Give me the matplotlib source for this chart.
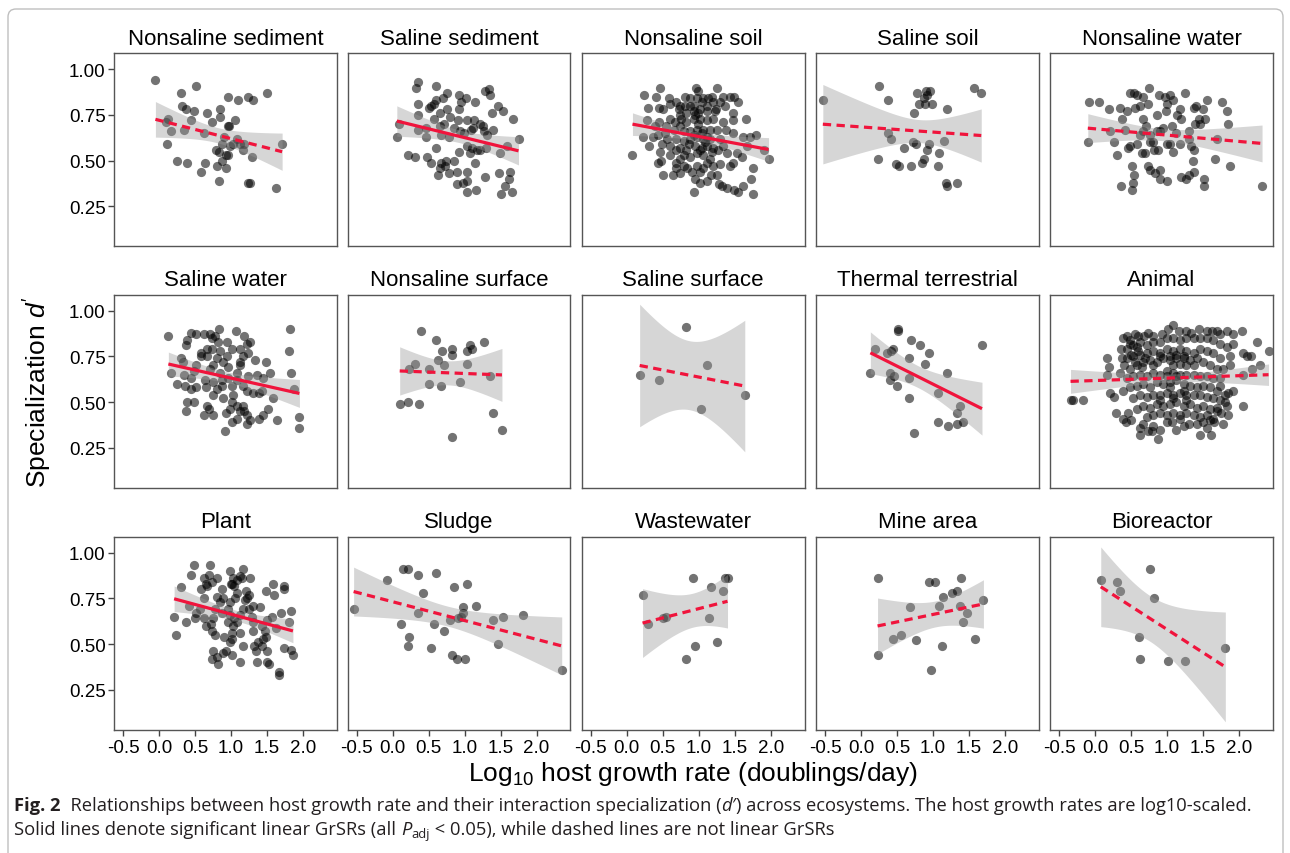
import numpy as np
import matplotlib.pyplot as plt
from matplotlib.patches import FancyBboxPatch
from matplotlib.transforms import IdentityTransform

plt.rcParams['font.family'] = ['Liberation Sans', 'DejaVu Sans']
plt.rcParams['mathtext.fontset'] = 'custom'
plt.rcParams['mathtext.rm'] = 'Liberation Sans'
plt.rcParams['mathtext.it'] = 'Liberation Sans:italic'
plt.rcParams['mathtext.bf'] = 'Liberation Sans:bold'
plt.rcParams['axes.unicode_minus'] = False

# --- data (log10 growth rate, specialization d') ---
nonsaline_sediment_x = [-0.05, 0.30, 0.51, 1.24, 1.30, 1.50, 0.96, 1.10, 0.32, 0.38, 0.48, 0.67, 0.85, 0.85, 1.06, 0.44,
                        0.12, 0.10, 0.16, 0.35, 0.62, 0.74, 0.96, 0.90, 1.08, 0.11, 0.79, 0.88, 0.98, 1.12, 1.16, 0.83,
                        0.96, 0.93, 1.18, 1.71, 1.29, 0.25, 0.39, 0.64, 0.80, 0.88, 0.93, 0.59, 0.83, 1.23, 1.26, 1.62,
                        0.97, 1.03]
nonsaline_sediment_y = [0.94, 0.87, 0.91, 0.85, 0.83, 0.87, 0.85, 0.83, 0.80, 0.78, 0.77, 0.76, 0.78, 0.74, 0.72, 0.72,
                        0.73, 0.71, 0.66, 0.67, 0.65, 0.71, 0.69, 0.63, 0.62, 0.59, 0.56, 0.59, 0.58, 0.59, 0.56, 0.55,
                        0.53, 0.53, 0.59, 0.59, 0.52, 0.50, 0.49, 0.49, 0.47, 0.50, 0.46, 0.44, 0.39, 0.38, 0.38, 0.35,
                        0.69, 0.59]

saline_sediment_x = [0.36, 0.32, 0.61, 0.76, 0.70, 0.61, 0.57, 0.50, 0.36, 0.54, 0.66, 0.75, 0.92, 1.02, 0.95, 1.15,
                     1.29, 1.34, 1.35, 1.47, 1.38, 1.53, 1.67, 0.35, 0.80, 0.92, 0.91, 1.03, 1.13, 1.22, 1.27, 1.40,
                     0.09, 0.35, 0.06, 0.46, 0.66, 0.72, 0.68, 0.85, 1.09, 1.12, 1.25, 0.47, 0.78, 0.61, 1.03, 1.10,
                     1.17, 1.08, 1.22, 1.30, 0.92, 1.49, 1.59, 1.75, 0.22, 0.31, 0.48, 0.54, 0.68, 0.74, 0.66, 0.73,
                     0.85, 1.15, 1.04, 0.89, 0.78, 0.63, 1.03, 0.98, 0.89, 1.29, 1.48, 1.63, 1.62, 1.56, 1.51, 1.66,
                     1.16, 1.04, 0.94, 0.99, 0.57, 1.31]
saline_sediment_y = [0.93, 0.90, 0.91, 0.87, 0.84, 0.83, 0.81, 0.79, 0.81, 0.80, 0.76, 0.78, 0.86, 0.84, 0.82, 0.82,
                     0.88, 0.89, 0.86, 0.80, 0.76, 0.77, 0.73, 0.75, 0.74, 0.78, 0.72, 0.72, 0.72, 0.70, 0.66, 0.67,
                     0.70, 0.67, 0.63, 0.68, 0.69, 0.70, 0.64, 0.68, 0.67, 0.68, 0.69, 0.63, 0.63, 0.57, 0.58, 0.57,
                     0.56, 0.54, 0.56, 0.57, 0.55, 0.54, 0.58, 0.62, 0.53, 0.52, 0.52, 0.49, 0.49, 0.50, 0.46, 0.47,
                     0.50, 0.49, 0.44, 0.44, 0.43, 0.42, 0.39, 0.38, 0.37, 0.41, 0.43, 0.44, 0.40, 0.36, 0.32, 0.33,
                     0.34, 0.33, 0.66, 0.65, 0.73, 0.64]

nonsaline_soil_x = [0.46, 0.24, 0.41, 0.59, 0.81, 0.96, 0.99, 1.25, 1.18, 1.34, 1.43, 1.49, 1.55, 0.30, 0.45, 0.50,
                    0.60, 0.69, 0.74, 0.88, 0.93, 1.06, 1.13, 1.20, 1.30, 1.36, 1.24, 1.48, 1.66, 0.45, 0.28, 0.08,
                    0.22, 0.31, 0.37, 0.43, 0.49, 0.56, 0.46, 0.43, 0.48, 0.51, 0.64, 0.69, 0.68, 0.74, 0.84, 0.95,
                    1.02, 0.93, 1.11, 1.17, 1.26, 1.28, 1.33, 1.39, 1.49, 1.54, 1.76, 1.61, 1.72, 1.76, 1.97, 1.90,
                    1.80, 1.71, 1.61, 1.48, 1.67, 1.60, 1.48, 1.43, 1.39, 1.27, 1.30, 1.53, 1.38, 1.34, 1.48,
                    0.74, 0.83, 0.93, 1.02, 1.11, 0.74, 0.83, 0.93, 1.02, 1.11, 1.20, 0.79, 0.88, 0.97, 1.06, 1.16,
                    1.25, 0.69, 0.79, 0.88, 0.97, 1.06, 1.16, 0.74, 0.83, 0.95, 1.04, 1.11, 1.20, 0.79, 0.88, 0.97,
                    1.06, 1.16, 0.79, 0.97, 1.11, 1.20, 1.02, 0.69, 0.60, 0.65, 0.55, 1.30, 1.34, 0.97, 1.04, 1.11,
                    0.95, 0.88, 0.72, 0.81, 1.23, 0.60, 0.67, 0.39, 0.53, 0.60, 0.74, 0.90, 1.06,
                    0.99, 1.04, 1.09, 1.02, 0.93, 0.86, 1.11, 0.99, 0.76, 1.18]
nonsaline_soil_y = [0.90, 0.86, 0.85, 0.84, 0.85, 0.90, 0.88, 0.90, 0.85, 0.85, 0.85, 0.85, 0.82, 0.79, 0.79, 0.78,
                    0.81, 0.82, 0.80, 0.84, 0.80, 0.84, 0.84, 0.82, 0.82, 0.80, 0.78, 0.76, 0.73, 0.71, 0.72, 0.53,
                    0.63, 0.58, 0.63, 0.64, 0.59, 0.62, 0.55, 0.49, 0.50, 0.42, 0.42, 0.49, 0.46, 0.43, 0.46, 0.40,
                    0.38, 0.33, 0.39, 0.42, 0.42, 0.37, 0.36, 0.35, 0.34, 0.33, 0.32, 0.36, 0.40, 0.46, 0.51, 0.56,
                    0.64, 0.63, 0.63, 0.65, 0.58, 0.52, 0.49, 0.47, 0.54, 0.56, 0.48, 0.54, 0.67, 0.71, 0.72,
                    0.75, 0.76, 0.77, 0.78, 0.77, 0.69, 0.71, 0.73, 0.73, 0.72, 0.73, 0.66, 0.66, 0.67, 0.67, 0.67,
                    0.67, 0.62, 0.61, 0.62, 0.63, 0.62, 0.62, 0.57, 0.56, 0.58, 0.57, 0.58, 0.57, 0.53, 0.52, 0.54,
                    0.53, 0.51, 0.47, 0.47, 0.49, 0.47, 0.44, 0.56, 0.53, 0.67, 0.69, 0.62, 0.58, 0.84, 0.82, 0.80,
                    0.75, 0.80, 0.78, 0.80, 0.77, 0.73, 0.71, 0.69, 0.65, 0.58, 0.51, 0.44, 0.46,
                    0.70, 0.65, 0.60, 0.56, 0.64, 0.59, 0.63, 0.76, 0.73, 0.55]

saline_soil_x = [-0.53, 0.25, 0.38, 0.78, 0.90, 0.96, 0.92, 0.88, 0.81, 0.89, 0.98, 0.73, 1.20, 1.57, 1.67, 0.38,
                 0.42, 0.72, 0.76, 0.60, 0.94, 0.92, 1.15, 1.09, 0.88, 0.85, 0.23, 0.48, 0.53, 0.70, 1.07, 1.18,
                 1.20, 1.34]
saline_soil_y = [0.83, 0.91, 0.83, 0.87, 0.88, 0.88, 0.86, 0.84, 0.81, 0.81, 0.81, 0.76, 0.78, 0.90, 0.87, 0.65,
                 0.62, 0.60, 0.59, 0.57, 0.59, 0.56, 0.61, 0.54, 0.51, 0.49, 0.51, 0.48, 0.47, 0.47, 0.47, 0.38,
                 0.36, 0.38]

nonsaline_water_x = [-0.08, 0.05, -0.10, 0.20, 0.21, 0.26, 0.30, 0.36, 0.51, 0.53, 0.54, 0.52, 0.35, 0.38, 0.42, 0.44,
                     0.48, 0.54, 0.59, 0.66, 0.73, 0.63, 0.56, 0.75, 0.89, 0.97, 1.04, 1.08, 1.00, 0.99, 0.86, 0.67,
                     0.71, 0.59, 0.65, 0.69, 0.73, 0.76, 0.83, 0.90, 1.00, 0.90, 0.82, 0.87, 0.81, 0.76, 0.67, 0.86,
                     0.90, 1.00, 1.04, 1.09, 1.18, 1.13, 1.07, 1.18, 1.19, 1.25, 1.40, 1.37, 1.44, 1.46, 1.53, 1.55,
                     1.50, 1.39, 1.30, 1.30, 1.34, 1.37, 1.36, 1.37, 1.30, 1.20, 1.27, 1.51, 1.52, 1.66, 1.70, 1.77,
                     1.84, 1.85, 1.87, 2.32, 0.46, 0.49, 0.63, 0.77, 0.95, 1.14]
nonsaline_water_y = [0.82, 0.82, 0.60, 0.78, 0.66, 0.60, 0.53, 0.36, 0.34, 0.38, 0.42, 0.47, 0.79, 0.73, 0.67, 0.77,
                     0.87, 0.87, 0.86, 0.85, 0.81, 0.80, 0.79, 0.90, 0.86, 0.85, 0.86, 0.83, 0.81, 0.77, 0.75, 0.73,
                     0.69, 0.59, 0.54, 0.54, 0.47, 0.45, 0.43, 0.40, 0.39, 0.45, 0.56, 0.56, 0.60, 0.64, 0.66, 0.66,
                     0.66, 0.59, 0.59, 0.55, 0.59, 0.65, 0.69, 0.78, 0.73, 0.87, 0.80, 0.79, 0.73, 0.70, 0.73, 0.83,
                     0.78, 0.70, 0.66, 0.62, 0.58, 0.56, 0.50, 0.44, 0.42, 0.41, 0.40, 0.40, 0.36, 0.51, 0.62, 0.82,
                     0.77, 0.70, 0.47, 0.36, 0.57, 0.58, 0.64, 0.60, 0.68, 0.75]

saline_water_x = [0.13, 0.17, 0.35, 0.30, 0.38, 0.45, 0.39, 0.52, 0.63, 0.71, 0.84, 0.73, 0.78, 0.82, 0.94, 1.07,
                  1.18, 1.02, 1.12, 1.22, 1.27, 1.23, 1.17, 1.13, 1.33, 1.49, 1.54, 1.36, 1.24, 1.08, 0.96, 0.89,
                  0.80, 0.75, 0.66, 0.58, 0.52, 0.49, 0.44, 0.45, 0.51, 0.65, 0.64, 0.75, 0.80, 0.88, 1.01, 1.03,
                  1.02, 0.99, 1.08, 1.16, 1.18, 1.22, 1.27, 1.39, 1.44, 1.52, 1.64, 1.43, 1.39, 1.31, 1.22, 1.16,
                  1.09, 0.96, 0.87, 0.75, 0.67, 0.69, 0.63, 0.75, 0.93, 1.02, 1.08, 1.12, 1.22, 0.92, 0.38, 0.39,
                  0.48, 0.25, 0.36, 0.59, 0.66, 0.85, 0.94, 1.82, 1.81, 1.83, 1.88, 1.94, 1.95, 1.45, 1.59, 0.34,
                  0.71, 0.85, 0.89, 1.12, 0.73]
saline_water_y = [0.86, 0.66, 0.65, 0.74, 0.81, 0.88, 0.84, 0.87, 0.87, 0.87, 0.90, 0.85, 0.86, 0.83, 0.83, 0.89,
                  0.86, 0.79, 0.79, 0.82, 0.83, 0.77, 0.75, 0.72, 0.73, 0.72, 0.66, 0.65, 0.64, 0.66, 0.69, 0.72,
                  0.74, 0.70, 0.75, 0.75, 0.70, 0.67, 0.63, 0.57, 0.58, 0.58, 0.62, 0.61, 0.57, 0.59, 0.59, 0.54,
                  0.50, 0.46, 0.48, 0.48, 0.45, 0.43, 0.40, 0.41, 0.43, 0.46, 0.40, 0.56, 0.55, 0.55, 0.56, 0.59,
                  0.62, 0.63, 0.62, 0.54, 0.48, 0.46, 0.43, 0.43, 0.44, 0.39, 0.41, 0.45, 0.38, 0.34, 0.45, 0.50,
                  0.50, 0.60, 0.59, 0.77, 0.79, 0.78, 0.75, 0.90, 0.78, 0.66, 0.57, 0.42, 0.36, 0.63, 0.52, 0.72,
                  0.68, 0.66, 0.52, 0.70, 0.79]

nonsaline_surface_x = [0.40, 0.61, 0.69, 0.83, 0.83, 1.04, 1.08, 1.11, 1.27, 0.63, 0.72, 0.50, 0.31, 0.23, 1.03, 1.35,
                       0.51, 0.68, 0.94, 0.10, 0.22, 0.37, 1.40, 1.52, 0.82]
nonsaline_surface_y = [0.89, 0.84, 0.78, 0.79, 0.76, 0.78, 0.81, 0.79, 0.83, 0.73, 0.70, 0.68, 0.71, 0.68, 0.71, 0.64,
                       0.60, 0.59, 0.61, 0.49, 0.50, 0.49, 0.44, 0.35, 0.31]

saline_surface_x = [0.18, 0.45, 0.82, 1.12, 1.03, 1.64]
saline_surface_y = [0.65, 0.62, 0.91, 0.70, 0.46, 0.54]

thermal_terrestrial_x = [0.52, 0.51, 0.69, 0.82, 0.94, 1.68, 0.20, 0.36, 0.41, 0.44, 0.67, 0.89, 0.13, 0.40, 0.46, 0.40,
                         0.50, 0.66, 1.19, 1.07, 0.67, 1.38, 1.34, 1.07, 1.21, 1.33, 1.42, 0.73]
thermal_terrestrial_y = [0.90, 0.89, 0.84, 0.81, 0.77, 0.81, 0.79, 0.77, 0.78, 0.79, 0.74, 0.71, 0.66, 0.66, 0.64, 0.62,
                         0.59, 0.63, 0.66, 0.55, 0.52, 0.48, 0.44, 0.39, 0.37, 0.38, 0.39, 0.33]

animal_x = [-0.34, -0.31, -0.17, 0.17, 0.20, 0.21, 0.26, 0.17, 0.29, 0.39, 0.43, 0.50, 0.46, 0.63, 0.62, 0.73, 0.79,
            0.88, 0.90, 1.07, 1.13, 1.18, 1.30, 1.46, 1.61, 1.55, 1.65, 1.78, 1.85, 1.83, 2.06, 2.05, 2.11, 2.16,
            2.25, 2.41, 2.04, 1.92, 1.83, 1.74, 1.69, 1.62, 1.55, 1.44, 1.34, 1.27, 1.16, 1.09, 1.02, 0.93, 0.81,
            0.73, 0.60, 0.39, 0.36, 0.38, 0.49, 1.92, 1.88, 2.05, 2.18, 2.29, 1.92, 1.81, 1.74,
            0.44, 0.53, 0.63, 0.72, 0.81, 0.90, 1.00, 1.09, 1.18, 1.27, 1.37, 1.46, 1.55, 1.64, 1.74, 1.83, 1.88,
            0.44, 0.53, 0.63, 0.72, 0.81, 0.90, 1.00, 1.09, 1.18, 1.27, 1.37, 1.46, 1.55, 1.64, 1.74,
            0.49, 0.58, 0.67, 0.76, 0.86, 0.95, 1.04, 1.13, 1.23, 1.32, 1.41, 1.50, 1.60, 1.69, 1.78,
            0.44, 0.53, 0.63, 0.72, 0.81, 0.90, 1.00, 1.09, 1.18, 1.27, 1.37, 1.46, 1.55, 1.64, 1.74,
            0.39, 0.49, 0.58, 0.67, 0.76, 0.86, 0.95, 1.04, 1.13, 1.23, 1.32, 1.41, 1.50, 1.60, 1.69,
            0.53, 0.63, 0.72, 0.81, 0.90, 1.00, 1.09, 1.18, 1.27, 1.37, 1.46, 1.55, 1.64, 1.74,
            0.58, 0.67, 0.76, 0.86, 0.95, 1.04, 1.13, 1.23, 1.32, 1.41, 1.50, 1.60, 1.69,
            0.72, 0.81, 0.90, 1.00, 1.09, 1.18, 1.27, 1.37, 1.46, 1.55, 1.64,
            0.67, 0.81, 1.00, 1.23, 1.41, 1.50,
            1.04, 1.13, 1.23, 1.09, 1.18, 1.27, 1.00, 1.13, 1.04, 1.23, 0.90, 1.09, 1.27, 0.90, 0.81, 1.37,
            0.45, 0.55, 0.58, 0.68, 0.50, 0.40, 0.60, 0.70, 0.48, 0.65, 0.35, 0.55,
            1.70, 1.80, 1.60, 1.85, 1.75]
animal_y = [0.51, 0.51, 0.51, 0.74, 0.69, 0.55, 0.53, 0.65, 0.44, 0.41, 0.39, 0.40, 0.44, 0.36, 0.32, 0.34, 0.34,
            0.30, 0.35, 0.39, 0.35, 0.41, 0.38, 0.32, 0.32, 0.36, 0.39, 0.38, 0.43, 0.48, 0.48, 0.77, 0.75, 0.75,
            0.83, 0.78, 0.89, 0.87, 0.89, 0.87, 0.89, 0.89, 0.89, 0.90, 0.88, 0.89, 0.89, 0.92, 0.90, 0.87, 0.86,
            0.88, 0.86, 0.85, 0.79, 0.74, 0.84, 0.82, 0.70, 0.65, 0.68, 0.70, 0.56, 0.54, 0.59,
            0.79, 0.81, 0.83, 0.81, 0.83, 0.83, 0.85, 0.85, 0.84, 0.85, 0.85, 0.85, 0.85, 0.84, 0.82, 0.80, 0.75,
            0.74, 0.75, 0.76, 0.77, 0.78, 0.77, 0.79, 0.78, 0.79, 0.78, 0.77, 0.79, 0.78, 0.77, 0.74,
            0.68, 0.70, 0.72, 0.73, 0.72, 0.74, 0.73, 0.74, 0.74, 0.73, 0.74, 0.72, 0.70, 0.68, 0.68,
            0.63, 0.64, 0.65, 0.64, 0.66, 0.65, 0.67, 0.66, 0.65, 0.65, 0.65, 0.64, 0.64, 0.63, 0.63,
            0.56, 0.58, 0.59, 0.60, 0.58, 0.61, 0.60, 0.61, 0.62, 0.60, 0.59, 0.58, 0.59, 0.58, 0.56,
            0.52, 0.54, 0.53, 0.54, 0.54, 0.55, 0.54, 0.55, 0.54, 0.54, 0.54, 0.53, 0.52, 0.51,
            0.46, 0.48, 0.47, 0.49, 0.48, 0.49, 0.50, 0.48, 0.49, 0.47, 0.48, 0.46, 0.45,
            0.42, 0.43, 0.44, 0.43, 0.44, 0.43, 0.44, 0.43, 0.42, 0.43, 0.41,
            0.38, 0.37, 0.39, 0.37, 0.38, 0.39,
            0.75, 0.76, 0.75, 0.70, 0.71, 0.70, 0.64, 0.64, 0.58, 0.56, 0.51, 0.52, 0.51, 0.75, 0.70, 0.70,
            0.86, 0.87, 0.80, 0.86, 0.76, 0.70, 0.78, 0.74, 0.82, 0.69, 0.66, 0.72,
            0.47, 0.50, 0.40, 0.55, 0.44]

plant_x = [0.21, 0.24, 0.30, 0.38, 0.42, 0.48, 0.44, 0.50, 0.57, 0.59, 0.63, 0.65, 0.71, 0.70, 0.67, 0.73, 0.80,
           0.62, 0.65, 0.72, 0.73, 0.78, 0.75, 0.81, 0.85, 0.87, 0.89, 0.78, 0.75, 0.73, 0.81, 0.82, 0.89, 0.93,
           0.90, 0.98, 1.01, 0.99, 1.03, 1.04, 1.02, 1.00, 1.08, 1.06, 1.08, 1.17, 1.12, 1.15, 1.26, 1.20, 1.17,
           1.12, 1.09, 1.03, 1.01, 1.13, 1.16, 1.13, 1.02, 1.04, 0.98, 0.96, 1.21, 1.22, 1.25, 1.29, 1.30, 1.30,
           1.32, 1.35, 1.38, 1.36, 1.43, 1.44, 1.31, 1.40, 1.43, 1.48, 1.47, 1.50, 1.50, 1.53, 1.49, 1.59, 1.60,
           1.74, 1.74, 1.70, 1.57, 1.50, 1.63, 1.73, 1.80, 1.84, 1.84, 1.86, 1.66, 1.66, 1.25, 0.88, 0.98, 0.52,
           0.62, 0.96]
plant_y = [0.65, 0.55, 0.81, 0.62, 0.71, 0.93, 0.88, 0.64, 0.69, 0.80, 0.86, 0.83, 0.93, 0.88, 0.82, 0.84, 0.86,
           0.64, 0.60, 0.61, 0.57, 0.69, 0.64, 0.76, 0.73, 0.80, 0.75, 0.55, 0.46, 0.42, 0.43, 0.39, 0.45, 0.46,
           0.54, 0.51, 0.53, 0.90, 0.86, 0.82, 0.83, 0.83, 0.85, 0.75, 0.78, 0.91, 0.87, 0.86, 0.86, 0.74, 0.69,
           0.66, 0.62, 0.60, 0.56, 0.56, 0.49, 0.40, 0.44, 0.64, 0.66, 0.62, 0.79, 0.75, 0.69, 0.65, 0.57, 0.62,
           0.49, 0.46, 0.51, 0.40, 0.49, 0.53, 0.71, 0.70, 0.60, 0.54, 0.57, 0.46, 0.40, 0.39, 0.79, 0.83, 0.77,
           0.82, 0.80, 0.67, 0.65, 0.63, 0.59, 0.48, 0.62, 0.68, 0.47, 0.44, 0.35, 0.33, 0.77, 0.67, 0.73, 0.67,
           0.75, 0.69]

sludge_x = [-0.54, -0.07, 0.15, 0.22, 0.35, 0.61, 0.43, 0.85, 1.04, 1.16, 0.98, 0.98, 0.95, 0.91, 0.80, 0.36, 0.12,
            0.58, 0.71, 0.23, 0.22, 0.54, 0.82, 0.89, 1.01, 1.39, 1.53, 1.81, 1.46, 2.35]
sludge_y = [0.69, 0.85, 0.91, 0.91, 0.88, 0.89, 0.78, 0.81, 0.83, 0.71, 0.70, 0.67, 0.65, 0.64, 0.63, 0.67, 0.61,
            0.61, 0.57, 0.54, 0.49, 0.48, 0.44, 0.42, 0.42, 0.63, 0.65, 0.66, 0.50, 0.36]

wastewater_x = [0.22, 0.29, 0.50, 0.55, 0.92, 0.95, 0.83, 1.17, 1.14, 1.26, 1.34, 1.37, 1.40]
wastewater_y = [0.77, 0.61, 0.64, 0.65, 0.86, 0.49, 0.42, 0.81, 0.64, 0.51, 0.79, 0.86, 0.86]

mine_area_x = [0.23, 0.24, 0.44, 0.55, 0.68, 0.77, 0.94, 1.03, 0.97, 1.09, 1.12, 1.14, 1.26, 1.33, 1.39, 1.37,
               1.41, 1.47, 1.59, 1.70]
mine_area_y = [0.86, 0.44, 0.53, 0.55, 0.70, 0.52, 0.84, 0.84, 0.36, 0.71, 0.49, 0.76, 0.78, 0.79, 0.86, 0.71,
               0.62, 0.67, 0.53, 0.74]

bioreactor_x = [0.08, 0.31, 0.35, 0.77, 0.82, 0.61, 0.62, 1.02, 1.25, 1.81]
bioreactor_y = [0.85, 0.84, 0.79, 0.91, 0.75, 0.54, 0.42, 0.41, 0.41, 0.48]

panels = [
    ("Nonsaline sediment", nonsaline_sediment_x, nonsaline_sediment_y, False),
    ("Saline sediment", saline_sediment_x, saline_sediment_y, True),
    ("Nonsaline soil", nonsaline_soil_x, nonsaline_soil_y, True),
    ("Saline soil", saline_soil_x, saline_soil_y, False),
    ("Nonsaline water", nonsaline_water_x, nonsaline_water_y, False),
    ("Saline water", saline_water_x, saline_water_y, True),
    ("Nonsaline surface", nonsaline_surface_x, nonsaline_surface_y, False),
    ("Saline surface", saline_surface_x, saline_surface_y, False),
    ("Thermal terrestrial", thermal_terrestrial_x, thermal_terrestrial_y, True),
    ("Animal", animal_x, animal_y, False),
    ("Plant", plant_x, plant_y, True),
    ("Sludge", sludge_x, sludge_y, False),
    ("Wastewater", wastewater_x, wastewater_y, False),
    ("Mine area", mine_area_x, mine_area_y, False),
    ("Bioreactor", bioreactor_x, bioreactor_y, False),
]

x_ticks = [-0.5, 0.0, 0.5, 1.0, 1.5, 2.0]
y_ticks = [0.25, 0.50, 0.75, 1.00]

RED = '#F0143C'


def t975(df):
    # Cornish-Fisher approximation of the 97.5% t quantile
    z = 1.959964
    return (z + (z**3 + z) / (4 * df) + (5 * z**5 + 16 * z**3 + 3 * z) / (96 * df**2)
            + (3 * z**7 + 19 * z**5 + 17 * z**3 - 15 * z) / (384 * df**3))


W, H = 1290, 854
fig = plt.figure(figsize=(W / 100, H / 100), dpi=100)

col_left = [114, 347.5, 581.7, 816, 1050]
row_top = [54.3, 295.7, 537.7]
pw, ph = 223, 193

for i, (title, xs, ys, sig) in enumerate(panels):
    r, c = divmod(i, 5)
    ax = fig.add_axes([col_left[c] / W, 1 - (row_top[r] + ph) / H, pw / W, ph / H])
    x = np.array(xs)
    y = np.array(ys)
    ax.scatter(x, y, s=44, color='black', alpha=0.55, linewidths=0, zorder=2)

    # linear fit with 95% confidence band (like geom_smooth(method='lm'))
    n = len(x)
    b1, b0 = np.polyfit(x, y, 1)
    resid = y - (b0 + b1 * x)
    s = np.sqrt(np.sum(resid**2) / (n - 2))
    sxx = np.sum((x - x.mean())**2)
    gx = np.linspace(x.min(), x.max(), 120)
    gy = b0 + b1 * gx
    se = s * np.sqrt(1 / n + (gx - x.mean())**2 / sxx)
    tq = t975(n - 2)
    ax.fill_between(gx, gy - tq * se, gy + tq * se, color='#999999', alpha=0.4, lw=0, zorder=3)
    if sig:
        ax.plot(gx, gy, color=RED, lw=2.3, zorder=4, solid_capstyle='butt')
    else:
        ax.plot(gx, gy, color=RED, lw=2.3, zorder=4, dashes=(2.6, 1.7), dash_capstyle='butt')

    ax.set_xlim(-0.625, 2.472)
    ax.set_ylim(0.032, 1.087)
    for sp in ax.spines.values():
        sp.set_color('#555555')
        sp.set_linewidth(1.0)
    ax.set_title(title, fontsize=16, pad=7)

    ax.set_xticks(x_ticks)
    ax.set_yticks(y_ticks)
    ax.tick_params(length=4, width=1, color='#444444', labelsize=13.5, labelcolor='black')
    ax.tick_params(axis='y', pad=2)
    ax.tick_params(axis='x', pad=3)
    if c == 0:
        ax.set_yticklabels([f"{v:.2f}" for v in y_ticks])
    else:
        ax.tick_params(axis='y', left=False, labelleft=False)
    if r == 2:
        ax.set_xticklabels([f"{v:.1f}" for v in x_ticks])
    else:
        ax.tick_params(axis='x', bottom=False, labelbottom=False)

fig.text(693.5 / W, 1 - 774 / H, r"Log$_{10}$ host growth rate (doublings/day)",
         ha='center', va='center', fontsize=19)
fig.text(38 / W, 1 - 392.5 / H, r"Specialization $d'$", ha='center', va='center',
         rotation=90, fontsize=19)

# caption
renderer = fig.canvas.get_renderer()
cap_font = ['Open Sans', 'DejaVu Sans']
cap_size = 13.2


def text_width(s, **kw):
    t1 = fig.text(0, 0, "|" + s + "|", **kw)
    t2 = fig.text(0, 0, "||", **kw)
    w = t1.get_window_extent(renderer).width - t2.get_window_extent(renderer).width
    t1.remove()
    t2.remove()
    return w


def caption_line(x0, y0, parts):
    x = x0
    for txt, kw in parts:
        opts = dict(family=cap_font, fontsize=cap_size, color='#231f20')
        opts.update(kw)
        dy = opts.pop('dy', 0)
        fig.text(x / W, 1 - (y0 + dy) / H, txt, va='baseline', ha='left', **opts)
        x += text_width(txt, **opts)


caption_line(14, 811, [("Fig. 2", dict(fontweight='bold')),
                       ("  Relationships between host growth rate and their interaction specialization (", {}),
                       ("d\u2032", dict(fontstyle='italic')),
                       (") across ecosystems. The host growth rates are log10-scaled.", {})])
caption_line(14, 835, [("Solid lines denote significant linear GrSRs (all ", {}),
                       ("P", dict(fontstyle='italic')),
                       ("adj", dict(fontsize=cap_size * 0.7, dy=3)),
                       (" < 0.05), while dashed lines are not linear GrSRs", {})])

# rounded frame around figure + caption (open at the bottom edge)
border = FancyBboxPatch((8, -20), 1275, 864, boxstyle="round,pad=0,rounding_size=8",
                        transform=IdentityTransform(), fill=False, edgecolor='#bfbfbf', lw=1.0)
fig.patches.append(border)

fig.savefig("out.png", dpi=100)
